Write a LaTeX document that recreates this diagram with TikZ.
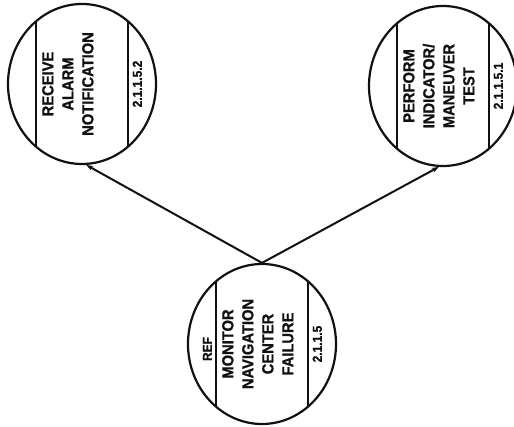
\documentclass[tikz,border=0pt]{standalone}
\usepackage{fontspec}
\setmainfont{Liberation Sans}
\newfontfamily\dffont[FakeStretch=0.92,BoldFeatures={FakeBold=1}]{Liberation Sans}
\usepackage{tikz}
\usetikzlibrary{positioning,arrows.meta,shapes.geometric}
\definecolor{dfInk}{HTML}{111111}
\definecolor{dfWhite}{HTML}{FFFFFF}
\tikzset{
  df-bubble/.style={
    ellipse, draw=dfInk, line width=2.2pt, fill=dfWhite,
    minimum width=148pt, minimum height=160pt, inner sep=0pt,
    path picture={
      \draw[dfInk, line width=1.8pt]
        ([xshift=-46pt]path picture bounding box.north) --
        ([xshift=-46pt]path picture bounding box.south)
        ([xshift=46pt]path picture bounding box.north) --
        ([xshift=46pt]path picture bounding box.south);
    }
  },
  df-title/.style={rotate=90, anchor=north, inner sep=0pt, align=center,
    text=dfInk, font=\dffont\bfseries\fontsize{16}{20}\selectfont},
  df-num/.style={rotate=90, anchor=north, inner sep=0pt,
    text=dfInk, font=\dffont\bfseries\fontsize{13}{15}\selectfont},
  df-ref/.style={rotate=90, anchor=south, inner sep=0pt,
    text=dfInk, font=\dffont\bfseries\fontsize{13}{15}\selectfont},
  df-flow/.style={-{Stealth[length=7pt,width=5pt]}, line width=2pt,
    draw=dfInk}
}

\begin{document}
\begin{tikzpicture}[x=1pt, y=-1pt]
\useasboundingbox (0,0) rectangle (514,427);

% Processes
\node[df-bubble] (recv) at (82,84) {};
\node[df-bubble] (perf) at (443,86) {};
\node[df-bubble] (mon) at (262,344) {};

\node[df-title] (recv-title) at ([xshift=-40pt]recv.center)
  {RECEIVE\\ ALARM\\ NOTIFICATION};
\node[df-num] (recv-num) at ([xshift=50.5pt]recv.center) {2.1.1.5.2};

\node[df-title] (perf-title) at ([xshift=-40pt]perf.center)
  {PERFORM\\ INDICATOR/\\ MANEUVER\\ TEST};
\node[df-num] (perf-num) at ([xshift=50.5pt]perf.center) {2.1.1.5.1};

\node[df-title] (mon-title) at ([xshift=-40pt]mon.center)
  {MONITOR\\ NAVIGATION\\ CENTER\\ FAILURE};
\node[df-num] (mon-num) at ([xshift=50.5pt]mon.center) {2.1.1.5};
\node[df-ref] (mon-ref) at ([xshift=-50pt,yshift=-5pt]mon.center) {REF};

% Flows
\draw[df-flow] (mon.north) -- (recv.-87);
\draw[df-flow] (mon.north) -- (perf.-93);
\end{tikzpicture}
\end{document}
